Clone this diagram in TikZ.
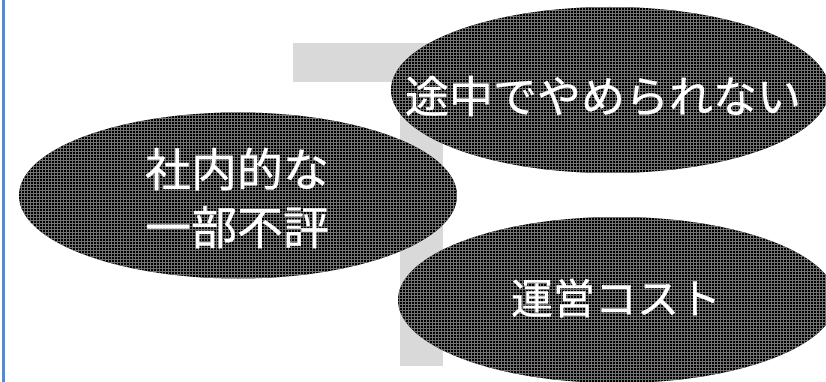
\documentclass[tikz,border=0pt]{standalone}
\usepackage{fontspec}
\newfontfamily\cjk[FakeBold=0.6]{Noto Sans CJK JP}
\usetikzlibrary{shapes.geometric,patterns}
\definecolor{tgray}{HTML}{D9D9D9}
\definecolor{edgeblue}{HTML}{5A8AC6}
\tikzset{
  bubble/.style={ellipse, inner sep=0pt, minimum width=438pt, minimum height=166pt,
    preaction={fill=black}, pattern=grid, pattern color=black!55},
  label/.style={text=white, inner sep=0pt, align=center},
  tbar/.style={fill=tgray, draw=none}
}
\begin{document}
\begin{tikzpicture}[x=1pt,y=-1pt]
\clip (0,0) rectangle (826,382);
\fill[white] (0,0) rectangle (826,382);
\draw[edgeblue, line width=3pt] (3.5,0) -- (3.5,382);
% gray T shape
\fill[tbar] (293,43) rectangle (520,82);
\fill[tbar] (400,43) rectangle (443,366);
% ellipses
\node[bubble] (e1) at (238,195.5) {};
\node[bubble] (e2) at (610,90) {};
\node[bubble] (e3) at (617,300) {};
% texts
\node[label, font=\cjk\fontsize{46}{58}\selectfont] (t1) at (237,198) {社内的な\\一部不評};
\node[label, font=\cjk\fontsize{44}{58}\selectfont] (t2) at (603,96) {途中でやめられない};
\node[label, font=\cjk\fontsize{42}{58}\selectfont] (t3) at (616,298) {運営コスト};
\end{tikzpicture}
\end{document}
